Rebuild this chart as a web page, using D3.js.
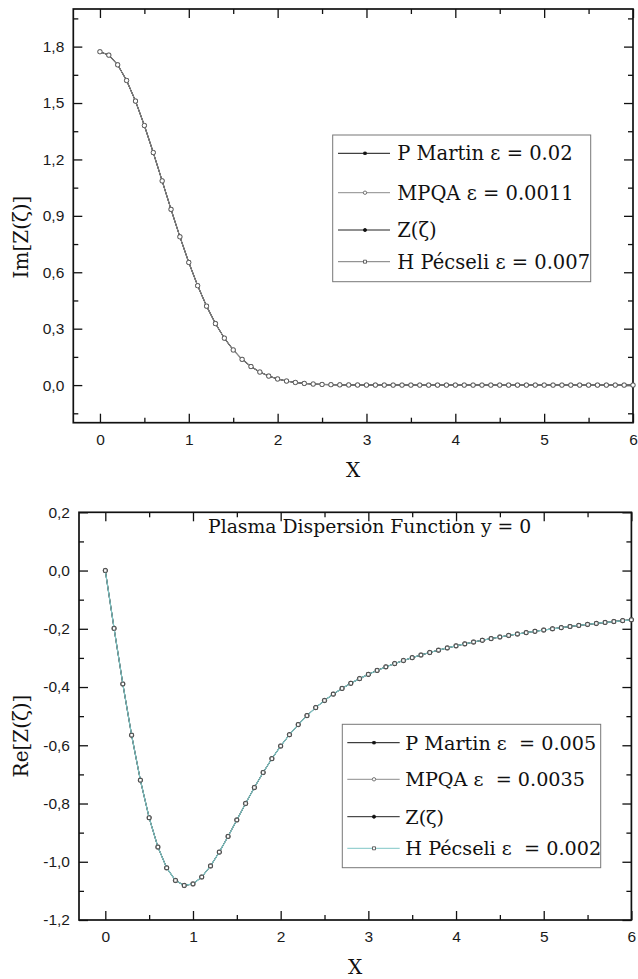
<!DOCTYPE html>
<html>
<head>
<meta charset="utf-8">
<script src="https://cdn.jsdelivr.net/npm/d3@7"></script>
<style>
  html, body { margin: 0; padding: 0; background: #fff; }
  svg { display: block; }
</style>
</head>
<body>
<svg id="chart" width="638" height="979"></svg>
<script>
// Sample abscissae of the tabulated plasma dispersion function (y = 0)
const xValues = [
  0.0, 0.1, 0.2, 0.3, 0.4, 0.5, 0.6, 0.7, 0.8, 0.9,
  1.0, 1.1, 1.2, 1.3, 1.4, 1.5, 1.6, 1.7, 1.8, 1.9,
  2.0, 2.1, 2.2, 2.3, 2.4, 2.5, 2.6, 2.7, 2.8, 2.9,
  3.0, 3.1, 3.2, 3.3, 3.4, 3.5, 3.6, 3.7, 3.8, 3.9,
  4.0, 4.1, 4.2, 4.3, 4.4, 4.5, 4.6, 4.7, 4.8, 4.9,
  5.0, 5.1, 5.2, 5.3, 5.4, 5.5, 5.6, 5.7, 5.8, 5.9,
  6.0
];

// Im[Z(ζ)] — the four approximations coincide at plotted resolution
const imValues = [
  1.7725, 1.7548, 1.7030, 1.6199, 1.5104, 1.3804, 1.2366, 1.0859, 0.9346, 0.7885,
  0.6521, 0.5285, 0.4199, 0.3271, 0.2497, 0.1868, 0.1370, 0.0985, 0.0694, 0.0480,
  0.0325, 0.0215, 0.0140, 0.0089, 0.0056, 0.0034, 0.0021, 0.0012, 0.0007, 0.0004,
  0.0002, 0.0001, 0.0001, 0.0000, 0.0000, 0.0000, 0.0000, 0.0000, 0.0000, 0.0000,
  0.0000, 0.0000, 0.0000, 0.0000, 0.0000, 0.0000, 0.0000, 0.0000, 0.0000, 0.0000,
  0.0000, 0.0000, 0.0000, 0.0000, 0.0000, 0.0000, 0.0000, 0.0000, 0.0000, 0.0000,
  0.0000
];

// Re[Z(ζ)] — the four approximations coincide at plotted resolution
const reValues = [
  0.0000, -0.1987, -0.3895, -0.5653, -0.7199, -0.8489, -0.9495, -1.0210, -1.0642, -1.0814,
  -1.0762, -1.0524, -1.0145, -0.9668, -0.9130, -0.8565, -0.7999, -0.7451, -0.6935, -0.6460,
  -0.6027, -0.5638, -0.5290, -0.4981, -0.4706, -0.4462, -0.4243, -0.4048, -0.3871, -0.3711,
  -0.3565, -0.3430, -0.3308, -0.3195, -0.3090, -0.2992, -0.2901, -0.2815, -0.2734, -0.2658,
  -0.2587, -0.2519, -0.2455, -0.2394, -0.2337, -0.2282, -0.2229, -0.2180, -0.2132, -0.2086,
  -0.2043, -0.2001, -0.1961, -0.1922, -0.1885, -0.1850, -0.1816, -0.1783, -0.1751, -0.1720,
  -0.1691
];

const xTicks = [0, 1, 2, 3, 4, 5, 6];
const xMinorTicks = [0.5, 1.5, 2.5, 3.5, 4.5, 5.5];
const imTicks = [0.0, 0.3, 0.6, 0.9, 1.2, 1.5, 1.8];
const imMinorTicks = [-0.15, 0.15, 0.45, 0.75, 1.05, 1.35, 1.65, 1.95];
const reTicks = [-1.2, -1.0, -0.8, -0.6, -0.4, -0.2, 0.0, 0.2];
const reMinorTicks = [-1.1, -0.9, -0.7, -0.5, -0.3, -0.1, 0.1];

const xDomain = [-0.3, 6];
const imDomain = [-0.2, 2.0];
const reDomain = [-1.2, 0.2];

const imLegendLabels = ["P Martin ε = 0.02", "MPQA ε = 0.0011", "Z(ζ)", "H Pécseli ε = 0.007"];
const reLegendLabels = ["P Martin ε  = 0.005", "MPQA ε  = 0.0035", "Z(ζ)", "H Pécseli ε  = 0.002"];

// ---- styling / layout ----
const SERIF = "DejaVu Serif, Liberation Serif, serif";
const SANS = "Liberation Sans, Arial, sans-serif";

function seriesStyles(lastLineColor) {
  return [
    { line: "#111", width: 1.0, symbol: d3.symbolSquare, size: 6,  fill: "#111", stroke: "#111" },
    { line: "#8c8c8c", width: 1.0, symbol: d3.symbolCircle, size: 15, fill: "#fff", stroke: "#555" },
    { line: "#222", width: 1.0, symbol: d3.symbolCircle, size: 8,  fill: "#111", stroke: "#111" },
    { line: lastLineColor, width: 1.2, symbol: d3.symbolSquare, size: 12, fill: "#fff", stroke: "#444" }
  ];
}

const panels = [
  {
    box: { l: 73.3, t: 9, r: 633, b: 422.7 },
    yDomain: imDomain, values: imValues,
    yTicks: imTicks, yMinor: imMinorTicks,
    yTitle: "Im[Z(ζ)]", yTitleY: 237,
    legendLabels: imLegendLabels,
    styles: seriesStyles("#7a7a7a"),
    drawOrder: [0, 3, 2, 1],
    legend: { x: 332.7, y: 135, w: 258, h: 146.7, rows: [18.3, 57.7, 95, 126.7],
              l0: 5.3, l1: 57.3, mx: 32.3, tx: 64.6, font: 19.5 }
  },
  {
    box: { l: 79, t: 512.3, r: 631.4, b: 920 },
    yDomain: reDomain, values: reValues,
    yTicks: reTicks, yMinor: reMinorTicks,
    yTitle: "Re[Z(ζ)]", yTitleY: 736,
    legendLabels: reLegendLabels,
    styles: seriesStyles("#7fc6c6"),
    drawOrder: [0, 1, 2, 3],
    plotTitle: "Plasma Dispersion Function y = 0",
    legend: { x: 342.3, y: 724.3, w: 258.4, h: 143.4, rows: [18.4, 55, 92.4, 124],
              l0: 5, l1: 57.4, mx: 31.7, tx: 63, font: 19.2 }
  }
];

const locale = d3.formatLocale({ decimal: ",", thousands: ".", grouping: [3], currency: ["", ""], minus: "-" });
const yFmt = locale.format(".1f");
const xFmt = d3.format("d");

const svg = d3.select("#chart");

panels.forEach(p => {
  const { l, t, r, b } = p.box;
  const x = d3.scaleLinear().domain(xDomain).range([l, r]);
  const y = d3.scaleLinear().domain(p.yDomain).range([b, t]);
  const g = svg.append("g");

  const styleAxis = sel => {
    sel.select(".domain").remove();
    sel.selectAll(".tick line").attr("stroke", "#111").attr("stroke-width", 1.3);
    sel.selectAll(".tick text").attr("fill", "#1a1a1a").style("font-family", SANS).style("font-size", "15.5px");
  };

  // major ticks (all pointing inward), labels on bottom and left
  g.append("g").attr("transform", `translate(0,${b})`)
    .call(d3.axisBottom(x).tickValues(xTicks).tickSize(-9).tickPadding(11).tickFormat(xFmt)).call(styleAxis);
  g.append("g").attr("transform", `translate(0,${t})`)
    .call(d3.axisTop(x).tickValues(xTicks).tickSize(-9).tickFormat("")).call(styleAxis);
  g.append("g").attr("transform", `translate(${l},0)`)
    .call(d3.axisLeft(y).tickValues(p.yTicks).tickSize(-9).tickPadding(9).tickFormat(yFmt)).call(styleAxis);
  g.append("g").attr("transform", `translate(${r},0)`)
    .call(d3.axisRight(y).tickValues(p.yTicks).tickSize(-9).tickFormat("")).call(styleAxis);

  // minor ticks
  g.append("g").attr("transform", `translate(0,${b})`)
    .call(d3.axisBottom(x).tickValues(xMinorTicks).tickSize(-5).tickFormat("")).call(styleAxis);
  g.append("g").attr("transform", `translate(0,${t})`)
    .call(d3.axisTop(x).tickValues(xMinorTicks).tickSize(-5).tickFormat("")).call(styleAxis);
  g.append("g").attr("transform", `translate(${l},0)`)
    .call(d3.axisLeft(y).tickValues(p.yMinor).tickSize(-5).tickFormat("")).call(styleAxis);
  g.append("g").attr("transform", `translate(${r},0)`)
    .call(d3.axisRight(y).tickValues(p.yMinor).tickSize(-5).tickFormat("")).call(styleAxis);

  // frame
  g.append("rect").attr("x", l).attr("y", t).attr("width", r - l).attr("height", b - t)
    .attr("fill", "none").attr("stroke", "#111").attr("stroke-width", 1.7);

  // axis titles
  g.append("text").attr("x", (l + r) / 2).attr("y", b + 54)
    .attr("text-anchor", "middle").style("font-family", SERIF).style("font-size", "20px")
    .attr("fill", "#111").text("X");
  g.append("text").attr("transform", `translate(21,${p.yTitleY}) rotate(-90)`)
    .attr("text-anchor", "middle").attr("dominant-baseline", "central")
    .style("font-family", SERIF).style("font-size", "20px").attr("fill", "#111").text(p.yTitle);

  if (p.plotTitle) {
    g.append("text").attr("x", 208).attr("y", t + 21)
      .style("font-family", SERIF).style("font-size", "18.8px").attr("fill", "#111").text(p.plotTitle);
  }

  // curves
  const pts = xValues.map((xv, i) => [xv, p.values[i]]);
  const line = d3.line().x(d => x(d[0])).y(d => y(d[1]));
  const plot = g.append("g");
  p.drawOrder.forEach(si => {
    const s = p.styles[si];
    plot.append("path").datum(pts).attr("d", line)
      .attr("fill", "none").attr("stroke", s.line).attr("stroke-width", s.width);
    plot.append("g").selectAll("path").data(pts).join("path")
      .attr("transform", d => `translate(${x(d[0])},${y(d[1])})`)
      .attr("d", d3.symbol().type(s.symbol).size(s.size))
      .attr("fill", s.fill).attr("stroke", s.stroke).attr("stroke-width", 0.9);
  });

  // legend
  const L = p.legend;
  const lg = g.append("g").attr("transform", `translate(${L.x},${L.y})`);
  lg.append("rect").attr("width", L.w).attr("height", L.h)
    .attr("fill", "#fff").attr("stroke", "#777").attr("stroke-width", 1);
  p.legendLabels.forEach((lab, i) => {
    const s = p.styles[i];
    const ry = L.rows[i];
    lg.append("line").attr("x1", L.l0).attr("x2", L.l1).attr("y1", ry).attr("y2", ry)
      .attr("stroke", s.line).attr("stroke-width", 1);
    lg.append("path").attr("transform", `translate(${L.mx},${ry})`)
      .attr("d", d3.symbol().type(s.symbol).size(Math.min(s.size, 9)))
      .attr("fill", s.fill).attr("stroke", s.stroke).attr("stroke-width", 0.8);
    lg.append("text").attr("x", L.tx).attr("y", ry).attr("dy", "0.36em")
      .style("font-family", SERIF).style("font-size", L.font + "px").style("white-space", "pre")
      .attr("fill", "#111").text(lab);
  });
});
</script>
</body>
</html>
